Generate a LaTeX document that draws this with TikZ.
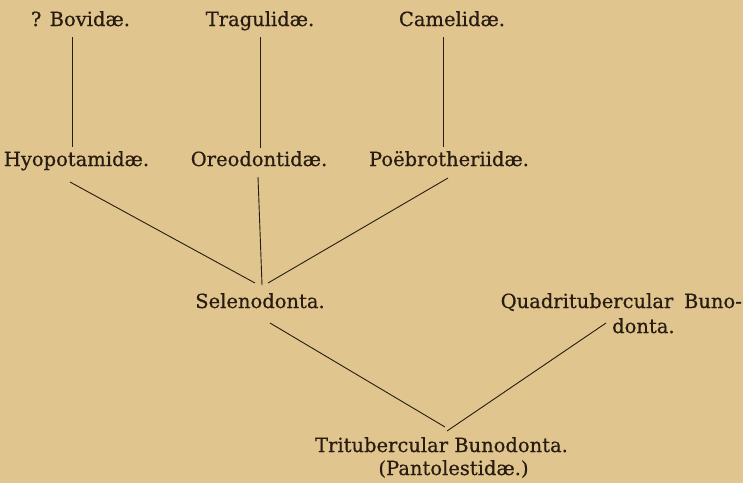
\documentclass[tikz,border=0pt]{standalone}
\usepackage{fontspec}
\setmainfont[FakeBold=0.6]{DejaVu Serif}
\definecolor{paper}{RGB}{224,198,142}
\definecolor{ink}{RGB}{40,27,17}
\begin{document}
\begin{tikzpicture}[x=1pt,y=-1pt,
  lbl/.style={inner sep=0pt, anchor=base, text=ink, font=\fontsize{19.5}{23}\selectfont},
  link/.style={draw=ink, line width=0.9pt}]
\fill[paper] (0,0) rectangle (743,483);
\useasboundingbox (0,0) rectangle (743,483);
% labels
\node[lbl] (bov) at (80.5,26) {? Bovidæ.};
\node[lbl] (tra) at (260,26) {Tragulidæ.};
\node[lbl] (cam) at (452,26) {Camelidæ.};
\node[lbl] (hyo) at (76.5,166) {Hyopotamidæ.};
\node[lbl] (ore) at (259,166) {Oreodontidæ.};
\node[lbl] (poe) at (449,166) {Poëbrotheriidæ.};
\node[lbl] (sel) at (260,308) {Selenodonta.};
\node[lbl, anchor=base east] (qua) at (742,308) {Quadritubercular\hspace{0.55em}Buno-};
\node[lbl, anchor=base west] (qub) at (612,333) {donta.};
\node[lbl] (tri) at (441.5,452) {Tritubercular Bunodonta.};
\node[lbl] (pan) at (453.5,475) {(Pantolestidæ.)};
% connector ends
\coordinate (bovB) at (72,37);   \coordinate (hyoT) at (72,147);
\coordinate (traB) at (260,37);  \coordinate (oreT) at (260,148);
\coordinate (camB) at (443,37);  \coordinate (poeT) at (443,147);
\coordinate (hyoB) at (70,182);  \coordinate (selL) at (255,283);
\coordinate (oreB) at (258,177); \coordinate (selM) at (262,285);
\coordinate (poeB) at (448,178); \coordinate (selR) at (268,283);
\coordinate (selB) at (270,323); \coordinate (triL) at (445,427);
\coordinate (quaB) at (606,323); \coordinate (triR) at (447,431);
\draw[link] (bovB) -- (hyoT);
\draw[link] (traB) -- (oreT);
\draw[link] (camB) -- (poeT);
\draw[link] (hyoB) -- (selL);
\draw[link] (oreB) -- (selM);
\draw[link] (poeB) -- (selR);
\draw[link] (selB) -- (triL);
\draw[link] (quaB) -- (triR);
\end{tikzpicture}
\end{document}
